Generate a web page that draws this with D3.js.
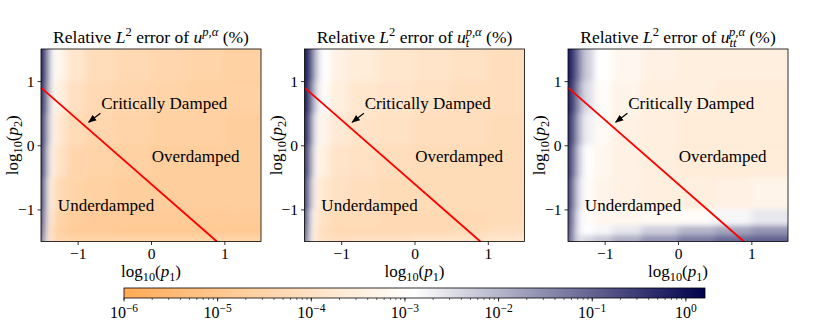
<!doctype html>
<html>
<head>
<meta charset="utf-8"/>
<title>Relative L2 error</title>
<script src="https://d3js.org/d3.v7.min.js"></script>
<style>
body { margin: 0; background: #fff; }
svg text { font-family: "Liberation Serif", "DejaVu Serif", serif; fill: #000; }
</style>
</head>
<body>
<script>
// grid edges (log10 p1 across, log10 p2 down)
const xEdges = [-1.5, -1.46, -1.42, -1.37, -1.3, -1.15, -0.9, -0.5, 0, 0.5, 1.0, 1.5];
const yEdges = [1.5, 1.0, 0.5, 0, -0.5, -1.0, -1.25, -1.4, -1.5];

// log10 of relative error, rows top -> bottom, cols left -> right
const errU = [
  [-0.2, -0.5, -1.8, -2.9, -3.3, -3.8, -4.15, -4.3, -4.4, -4.5, -4.6],
  [-0.2, -0.7, -2.0, -3.1, -3.5, -4.05, -4.3, -4.4, -4.5, -4.6, -4.6],
  [-0.3, -0.9, -2.3, -3.3, -3.8, -4.2, -4.4, -4.5, -4.6, -4.6, -4.7],
  [-0.3, -1.1, -2.6, -3.5, -4.0, -4.4, -4.5, -4.6, -4.7, -4.7, -4.7],
  [-0.4, -1.4, -3.0, -3.85, -4.3, -4.5, -4.6, -4.7, -4.7, -4.7, -4.7],
  [-0.5, -1.8, -3.3, -4.1, -4.5, -4.7, -4.8, -4.8, -4.8, -4.8, -4.8],
  [-0.6, -2.1, -3.5, -4.3, -4.6, -4.8, -4.8, -4.9, -4.9, -4.9, -4.9],
  [-0.8, -2.4, -3.6, -4.2, -4.4, -4.5, -4.5, -4.5, -4.5, -4.5, -4.5]
];
const errUt = [
  [-0.1, -0.3, -1.0, -2.2, -2.9, -3.4, -3.6, -3.8, -3.9, -4.0, -4.1],
  [-0.1, -0.4, -1.3, -2.5, -3.0, -3.5, -3.8, -3.9, -4.0, -4.1, -4.1],
  [-0.2, -0.6, -1.7, -2.8, -3.3, -3.7, -3.9, -4.0, -4.1, -4.1, -4.2],
  [-0.3, -0.9, -2.1, -3.1, -3.5, -3.9, -4.0, -4.1, -4.2, -4.2, -4.2],
  [-0.4, -1.2, -2.5, -3.4, -3.8, -4.0, -4.1, -4.2, -4.2, -4.2, -4.2],
  [-0.5, -1.6, -2.9, -3.7, -4.0, -4.2, -4.2, -4.3, -4.3, -4.3, -4.2],
  [-0.6, -1.9, -3.1, -3.8, -4.1, -4.3, -4.3, -4.3, -4.3, -4.2, -4.1],
  [-0.8, -2.1, -3.2, -3.8, -4.0, -4.1, -4.0, -4.0, -3.9, -3.9, -3.8]
];
const errUtt = [
  [-0.1, -0.3, -0.8, -1.5, -2.3, -2.9, -3.2, -3.4, -3.5, -3.5, -3.5],
  [-0.2, -0.4, -1.0, -1.8, -2.5, -3.0, -3.3, -3.5, -3.5, -3.6, -3.6],
  [-0.3, -0.6, -1.3, -2.1, -2.7, -3.1, -3.4, -3.5, -3.6, -3.6, -3.6],
  [-0.4, -0.8, -1.6, -2.4, -2.9, -3.2, -3.4, -3.5, -3.6, -3.6, -3.6],
  [-0.5, -1.0, -1.9, -2.6, -3.0, -3.3, -3.4, -3.5, -3.5, -3.4, -3.3],
  [-0.6, -1.2, -2.1, -2.8, -3.0, -3.2, -3.2, -3.1, -3.0, -2.8, -2.6],
  [-0.7, -1.3, -2.2, -2.8, -2.9, -2.8, -2.6, -2.3, -2.0, -1.8, -1.6],
  [-0.8, -1.4, -2.2, -2.6, -2.4, -2.2, -1.9, -1.6, -1.3, -1.1, -1.0]
];
const grids = [errU, errUt, errUtt];
const subs = ["", "t", "tt"];

const axisTicks = [-1, 0, 1];
const critLine = [[-1.5, 0.898], [0.898, -1.5]];
const labels = ["Critically Damped", "Overdamped", "Underdamped"];
const labelPos = [[-0.68, 0.57], [0.01, -0.26], [-1.27, -1.03]];
const arrowFrom = [-0.69, 0.50], arrowTo = [-0.85, 0.36];

const cbMin = 1e-6, cbMax = 1.6;
const cbTicks = [-6, -5, -4, -3, -2, -1, 0];

var W = 830, H = 332;
var svg = d3.select("body").append("svg")
  .attr("width", W).attr("height", H);

var defs = svg.append("defs");
var filt = defs.append("filter").attr("id", "smooth")
  .attr("x", "-5%").attr("y", "-5%").attr("width", "110%").attr("height", "110%");
filt.append("feGaussianBlur").attr("stdDeviation", "3 2.5").attr("result", "b");
var ct = filt.append("feComponentTransfer").attr("in", "b");
ct.append("feFuncA").attr("type", "table").attr("tableValues", "1 1");

var lmin = Math.log10(cbMin), lmax = Math.log10(cbMax);
var cmap = d3.scaleLinear()
  .domain([lmin, (lmin + lmax) / 2, lmax])
  .range(["#ffab57", "#ffffff", "#00004d"])
  .clamp(true);

defs.append("marker").attr("id", "arr")
  .attr("viewBox", "0 0 10 10").attr("refX", 9).attr("refY", 5)
  .attr("markerWidth", 7).attr("markerHeight", 7).attr("orient", "auto")
  .append("path").attr("d", "M0,1 L10,5 L0,9 Z").attr("fill", "#000");

var panelX = [41, 304.5, 568], panelTop = 49, pw = 220, ph = 192.5;
var x = d3.scaleLinear().domain([-1.5, 1.5]).range([0, pw]);
var y = d3.scaleLinear().domain([-1.5, 1.5]).range([ph, 0]);
var fmt = d => d < 0 ? "\u2212" + Math.abs(d) : "" + d;

function mathText(sel, parts, size) {
  // parts: [text, style] where style in "", "it", "sub", "sup"
  parts.forEach(p => {
    var t = sel.append("tspan").text(p[0]);
    if (p[1].includes("it")) t.attr("font-style", "italic");
    if (p[1].includes("sub")) t.attr("font-size", size * 0.72).attr("baseline-shift", -size * 0.22);
    if (p[1].includes("sup")) t.attr("font-size", size * 0.72).attr("baseline-shift", size * 0.4);
  });
}

grids.forEach((grid, i) => {
  var g = svg.append("g").attr("transform", `translate(${panelX[i]},${panelTop})`);
  defs.append("clipPath").attr("id", "clip" + i)
    .append("rect").attr("width", pw).attr("height", ph);

  var cells = [];
  grid.forEach((row, r) => row.forEach((v, c) => cells.push({r, c, v})));
  var nc = xEdges.length - 2, nr = yEdges.length - 2;
  g.append("g").attr("clip-path", `url(#clip${i})`)
    .append("g").attr("filter", "url(#smooth)")
    .selectAll("rect").data(cells).join("rect")
    .attr("x", d => x(xEdges[d.c]) - (d.c == 0 ? 8 : 0))
    .attr("y", d => y(yEdges[d.r]) - (d.r == 0 ? 8 : 0))
    .attr("width", d => x(xEdges[d.c + 1]) - x(xEdges[d.c]) + (d.c == 0 ? 8 : 0) + (d.c == nc ? 8 : 0) + 0.5)
    .attr("height", d => y(yEdges[d.r + 1]) - y(yEdges[d.r]) + (d.r == 0 ? 8 : 0) + (d.r == nr ? 8 : 0) + 0.5)
    .attr("fill", d => cmap(d.v));

  g.append("path")
    .attr("d", d3.line().x(d => x(d[0])).y(d => y(d[1]))(critLine))
    .attr("stroke", "#ff0000").attr("stroke-width", 1.8).attr("fill", "none");

  labels.forEach((s, k) => {
    g.append("text").attr("x", x(labelPos[k][0])).attr("y", y(labelPos[k][1]))
      .attr("font-size", 17).text(s);
  });
  g.append("line")
    .attr("x1", x(arrowFrom[0])).attr("y1", y(arrowFrom[1]))
    .attr("x2", x(arrowTo[0])).attr("y2", y(arrowTo[1]))
    .attr("stroke", "#000").attr("stroke-width", 1.2).attr("marker-end", "url(#arr)");

  g.append("rect").attr("width", pw).attr("height", ph)
    .attr("fill", "none").attr("stroke", "#000").attr("stroke-width", 0.8);

  var ax = g.append("g").attr("transform", `translate(0,${ph})`)
    .call(d3.axisBottom(x).tickValues(axisTicks).tickSize(3.5).tickPadding(3).tickFormat(fmt));
  var ay = g.append("g")
    .call(d3.axisLeft(y).tickValues(axisTicks).tickSize(3.5).tickPadding(3).tickFormat(fmt));
  [ax, ay].forEach(a => {
    a.select(".domain").remove();
    a.selectAll("line").attr("stroke", "#000").attr("stroke-width", 0.8);
    a.selectAll("text").attr("font-size", 15.5).attr("fill", "#000");
  });

  var fs = 17.5;
  var tt = g.append("text").attr("x", pw / 2).attr("y", -6)
    .attr("text-anchor", "middle").attr("font-size", fs);
  var tparts = [["Relative ", ""], ["L", "it"], ["2", "sup"], [" error of ", ""], ["u", "it"]];
  mathText(tt, tparts, fs);
  if (subs[i]) {
    tt.append("tspan").attr("font-size", fs * 0.72).attr("font-style", "italic")
      .attr("baseline-shift", -4).text(subs[i]);
    tt.append("tspan").attr("font-size", fs * 0.72).attr("font-style", "italic")
      .attr("dx", -(subs[i].length * 3.7)).attr("baseline-shift", 7).text("p,\u03b1");
  } else {
    mathText(tt, [["p,\u03b1", "sup it"]], fs);
  }
  tt.append("tspan").text(" (%)");

  var xl = g.append("text").attr("x", pw / 2).attr("y", ph + 35)
    .attr("text-anchor", "middle").attr("font-size", 17);
  mathText(xl, [["log", ""], ["10", "sub"], ["(", ""], ["p", "it"], ["1", "sub"], [")", ""]], 17);
  var yl = g.append("text").attr("transform", `translate(-23,${ph / 2}) rotate(-90)`)
    .attr("text-anchor", "middle").attr("font-size", 17);
  mathText(yl, [["log", ""], ["10", "sub"], ["(", ""], ["p", "it"], ["2", "sub"], [")", ""]], 17);
});

// colorbar
var cbX0 = 124, cbX1 = 705, cbY = 288, cbH = 10;
var cx = d3.scaleLog().domain([cbMin, cbMax]).range([cbX0, cbX1]);
var grad = defs.append("linearGradient").attr("id", "cbgrad");
d3.range(0, 1.0001, 0.05).forEach(t => {
  grad.append("stop").attr("offset", t).attr("stop-color", cmap(lmin + t * (lmax - lmin)));
});
svg.append("rect").attr("x", cbX0).attr("y", cbY).attr("width", cbX1 - cbX0).attr("height", cbH)
  .attr("fill", "url(#cbgrad)").attr("stroke", "#000").attr("stroke-width", 0.8);

var minor = cx.ticks().filter(v => v >= cbMin && v <= cbMax);
var cbg = svg.append("g").attr("transform", `translate(0,${cbY + cbH})`);
cbg.selectAll("line.minor").data(minor).join("line").attr("class", "minor")
  .attr("x1", d => cx(d)).attr("x2", d => cx(d)).attr("y1", 0).attr("y2", 2)
  .attr("stroke", "#000").attr("stroke-width", 0.6);
cbg.selectAll("line.major").data(cbTicks).join("line").attr("class", "major")
  .attr("x1", d => cx(Math.pow(10, d))).attr("x2", d => cx(Math.pow(10, d)))
  .attr("y1", 0).attr("y2", 3.5).attr("stroke", "#000").attr("stroke-width", 0.8);
cbTicks.forEach(d => {
  var t = cbg.append("text").attr("x", cx(Math.pow(10, d))).attr("y", 20)
    .attr("text-anchor", "middle").attr("font-size", 16);
  t.append("tspan").text("10");
  t.append("tspan").attr("font-size", 11.5).attr("baseline-shift", 6.5).text(fmt(d));
});
</script>
</body>
</html>
